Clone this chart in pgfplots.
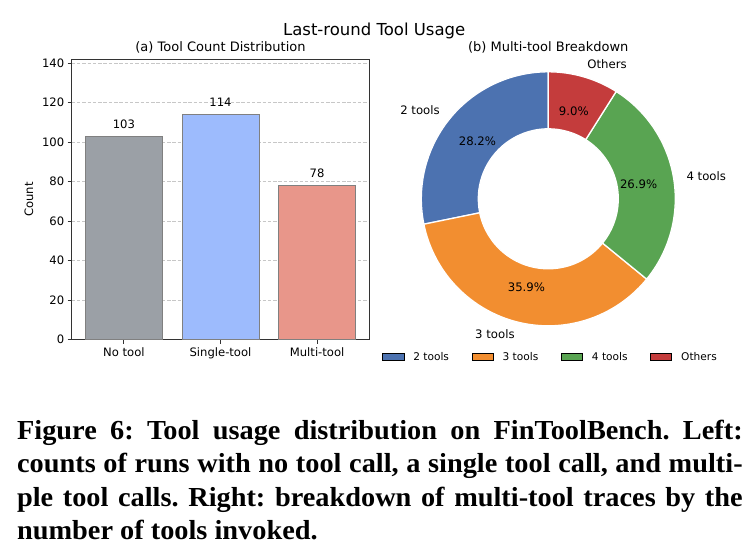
\documentclass[border=0pt]{standalone}
\usepackage{pgfplots}
\pgfplotsset{compat=1.18}
\usepackage{pgfplotstable}
\usepackage{fontspec}
\setmainfont{DejaVu Sans}
\newfontfamily\capfont[FakeStretch=1.03]{Liberation Serif}
\definecolor{cgray}{RGB}{155,160,166}
\definecolor{cblue}{RGB}{157,187,253}
\definecolor{csalmon}{RGB}{232,150,138}
\definecolor{dblue}{RGB}{76,114,176}
\definecolor{dorange}{RGB}{242,142,48}
\definecolor{dgreen}{RGB}{89,164,82}
\definecolor{dred}{RGB}{196,60,60}
\pgfplotsset{/pgf/number format/assume math mode=true, every axis title shift=0pt}
\newcommand\fs[1]{\fontsize{#1}{#1}\selectfont}

\pgfplotstableread[col sep=comma]{
label,count,color
2 tools,22,dblue
3 tools,28,dorange
4 tools,21,dgreen
Others,7,dred
}\piedata

\begin{document}
\begin{tikzpicture}
\path[use as bounding box, fill=white] (0,0) rectangle (756pt,550pt);
\pgfmathsetmacro\pietotal{0}
\pgfplotsforeachungrouped \i in {0,...,3}{%
  \pgfplotstablegetelem{\i}{count}\of\piedata
  \pgfmathsetmacro\pietotal{\pietotal+\pgfplotsretval}%
}

\node[font=\fs{16.5}, anchor=base] at (374.2pt,514pt) {Last-round Tool Usage};

% ---------------- left: bar chart
\begin{axis}[
  at={(71.7pt,210.3pt)}, anchor=south west,
  scale only axis, width=297.6pt, height=280.4pt,
  xmin=-0.54, xmax=2.54, ymin=0, ymax=142,
  xtick={0,1,2}, xticklabels={No tool,Single-tool,Multi-tool},
  ytick={0,20,...,140},
  tick align=outside, tick pos=left,
  major tick length=4pt,
  every tick/.style={black!80, line width=0.9pt},
  axis line style={black!80, line width=0.9pt},
  tick label style={font=\fs{11.6}},
  ymajorgrids, grid style={dash pattern=on 3.5pt off 1.8pt, black!22, line width=0.8pt},
  ybar, bar width=0.8, bar shift=0pt,
  nodes near coords,
  every node near coord/.append style={font=\fs{11.6}, yshift=4pt, black},
  ylabel={Count},
  every axis y label/.style={at={(axis description cs:-0.1435,0.5)}, rotate=90, anchor=center, font=\fs{11.6}},
  title={(a) Tool Count Distribution},
  title style={font=\fs{13}, at={(axis description cs:0.5,1)}, anchor=base, yshift=7.8pt},
]
\addplot[fill=cgray, draw=black!50, line width=0.7pt] coordinates {(0,103)};
\addplot[fill=cblue, draw=black!50, line width=0.7pt] coordinates {(1,114)};
\addplot[fill=csalmon, draw=black!50, line width=0.7pt] coordinates {(2,78)};
\end{axis}

% ---------------- right: donut
\begin{axis}[
  at={(548.3pt,351.2pt)}, anchor=origin, x=1pt, y=1pt,
  xmin=-160, xmax=160, ymin=-170, ymax=147.3, hide axis, clip=false,
  title={(b) Multi-tool Breakdown},
  title style={font=\fs{13}, at={(axis description cs:0.5,1)}, anchor=base, yshift=0pt},
  legend columns=4,
  legend style={draw=none, fill=none, inner sep=0pt, outer sep=0pt,
    at={(axis description cs:-0.01875,0.0372)}, anchor=west, font=\fs{10.6},
    nodes={inner sep=0pt, anchor=base},
    /tikz/every odd column/.style={column sep=9.4pt},
    /tikz/every even column/.style={column sep=22.6pt}},
  legend image code/.code={\fill[#1] (0pt,0pt) rectangle (21.2pt,7.4pt);},
]
\addlegendimage{fill=dblue}\addlegendentry{2 tools}
\addlegendimage{fill=dorange}\addlegendentry{3 tools}
\addlegendimage{fill=dgreen}\addlegendentry{4 tools}
\addlegendimage{fill=dred}\addlegendentry{Others}
\pgfplotsextra{%
  \def\cum{0}%
  \pgfplotsforeachungrouped \i in {0,...,3}{%
    \pgfplotstablegetelem{\i}{count}\of\piedata \let\cnt\pgfplotsretval
    \pgfplotstablegetelem{\i}{color}\of\piedata \let\col\pgfplotsretval
    \pgfplotstablegetelem{\i}{label}\of\piedata \let\lab\pgfplotsretval
    \pgfmathsetmacro\aA{90+360*(\cum/\pietotal)}%
    \pgfmathsetmacro\aB{90+360*((\cum+\cnt)/\pietotal)}%
    \pgfmathsetmacro\aM{(\aA+\aB)/2}%
    \pgfmathsetmacro\pct{100*(\cnt/\pietotal)}%
    \pgfmathsetmacro\cM{cos(\aM)}%
    \fill[fill=\col, draw=white, line width=1.3pt]
      (axis cs:{127*cos(\aA)},{127*sin(\aA)}) arc[start angle=\aA, end angle=\aB, radius=127pt]
      -- (axis cs:{70*cos(\aB)},{70*sin(\aB)}) arc[start angle=\aB, end angle=\aA, radius=70pt] -- cycle;
    \node[font=\fs{11.7}] at (axis cs:{91.5*cos(\aM)},{91.5*sin(\aM)}) {\pgfmathprintnumber[fixed,fixed zerofill,precision=1]{\pct}\%};
    \ifdim\cM pt>0pt \def\anc{west}\else\def\anc{east}\fi
    \node[font=\fs{11.7}, anchor=\anc, inner sep=0pt] at (axis cs:{139.9*cos(\aM)},{139.9*sin(\aM)}) {\lab};
    \pgfmathsetmacro\cum{\cum+\cnt}%
  }%
}
\end{axis}

% ---------------- caption
\node[anchor=base west, inner sep=0pt, text width=725.6pt, align=justify,
  font=\capfont\bfseries\fontsize{27.5}{33.5}\selectfont\frenchspacing] at (16.9pt,111pt)
  {\noindent Figure 6: Tool usage distribution on FinToolBench. Left:\linebreak
   counts of runs with no tool call, a single tool call, and multi-\linebreak
   ple tool calls. Right: breakdown of multi-tool traces by the\linebreak
   number of tools invoked.};
\end{tikzpicture}
\end{document}
